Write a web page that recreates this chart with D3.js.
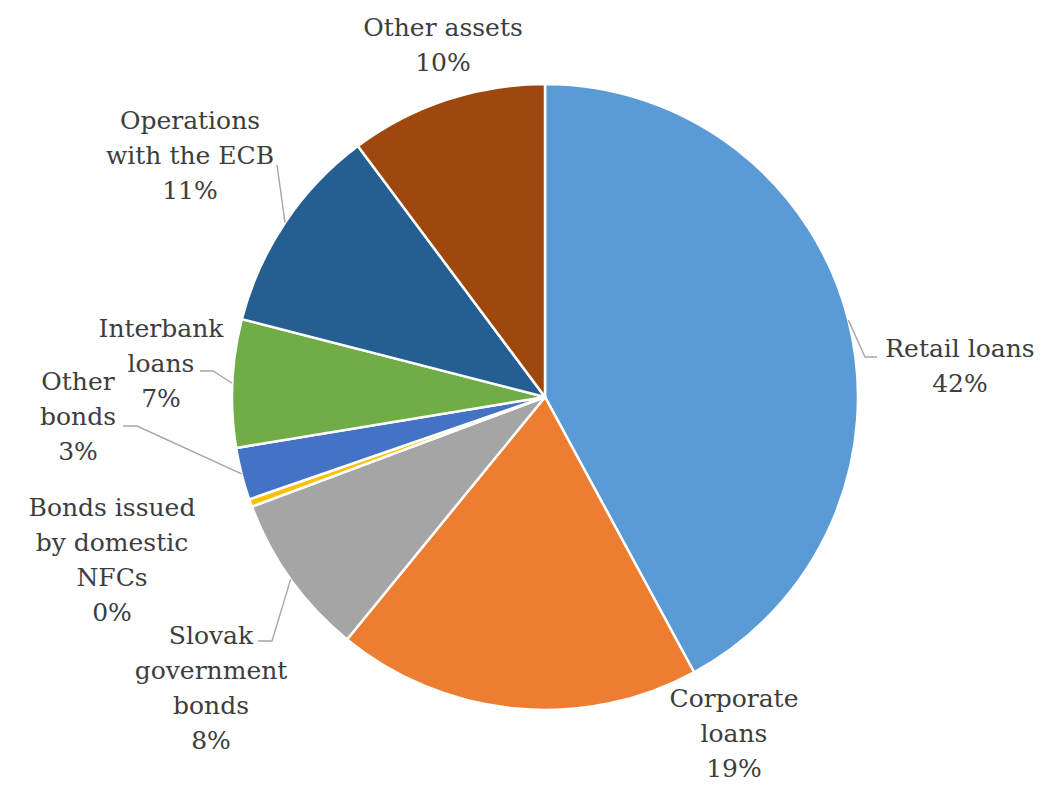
<!DOCTYPE html>
<html>
<head>
<meta charset="utf-8">
<script src="https://cdn.jsdelivr.net/npm/d3@7/dist/d3.min.js"></script>
<style>
  html, body { margin: 0; padding: 0; background: #ffffff; }
  svg { display: block; }
  .lbl { font-family: "DejaVu Serif", serif; font-size: 25px; fill: #3d3d3d; }
</style>
</head>
<body>
<svg id="chart" width="1043" height="785"></svg>
<script>
// Composition of assets, share of total (%)
const categories = [
  ["Retail loans"],
  ["Corporate", "loans"],
  ["Slovak", "government", "bonds"],
  ["Bonds issued", "by domestic", "NFCs"],
  ["Other", "bonds"],
  ["Interbank", "loans"],
  ["Operations", "with the ECB"],
  ["Other assets"]
];
const shares = [42.1, 18.8, 8.4, 0.4, 2.7, 6.6, 10.8, 10.2];
const colors = ["#5B9BD5", "#ED7D31", "#A5A5A5", "#FFC000", "#4472C4", "#70AD47", "#255E91", "#9E480E"];

// Label block placement: centre x, centre y of first line, optional leader (elbow, end)
const labelLayout = [
  { x: 960, y: 348, leader: [[865, 357], [877, 357]] },
  { x: 734, y: 698 },
  { x: 211, y: 635, leader: [[272, 641], [258, 641]] },
  { x: 112, y: 507 },
  { x: 78,  y: 381, leader: [[137, 426], [123, 426]] },
  { x: 161, y: 328, leader: [[213, 371], [200, 371]] },
  { x: 190, y: 120, leader: [[277, 165], [277, 165]] },
  { x: 443, y: 27 }
];

const cx = 545, cy = 397, radius = 313, lineGap = 35;

const svg = d3.select("#chart");
const g = svg.append("g").attr("transform", `translate(${cx},${cy})`);

const pie = d3.pie().sort(null).value(d => d).startAngle(0).endAngle(2 * Math.PI);
const arcs = pie(shares);
const arc = d3.arc().innerRadius(0).outerRadius(radius);

g.selectAll("path.slice")
  .data(arcs)
  .join("path")
  .attr("class", "slice")
  .attr("d", arc)
  .attr("fill", (d, i) => colors[i])
  .attr("stroke", "#ffffff")
  .attr("stroke-width", 2.5)
  .attr("stroke-linejoin", "round");

const total = d3.sum(shares);

// Leader lines from the slice rim to the label
arcs.forEach((d, i) => {
  const L = labelLayout[i];
  if (!L.leader) return;
  const mid = (d.startAngle + d.endAngle) / 2;
  const p0 = [cx + radius * Math.sin(mid), cy - radius * Math.cos(mid)];
  const pts = [p0, ...L.leader];
  svg.append("path")
    .attr("d", d3.line()(pts))
    .attr("fill", "none")
    .attr("stroke", "#A6A6A6")
    .attr("stroke-width", 1.4);
});

// Category labels with rounded percentage
arcs.forEach((d, i) => {
  const L = labelLayout[i];
  const lines = categories[i].concat([Math.round(d.data / total * 100) + "%"]);
  const t = svg.append("text")
    .attr("class", "lbl")
    .attr("text-anchor", "middle");
  lines.forEach((s, k) => {
    t.append("tspan")
      .attr("x", L.x)
      .attr("y", L.y + k * lineGap)
      .attr("dy", "0.36em")
      .text(s);
  });
});
</script>
</body>
</html>
